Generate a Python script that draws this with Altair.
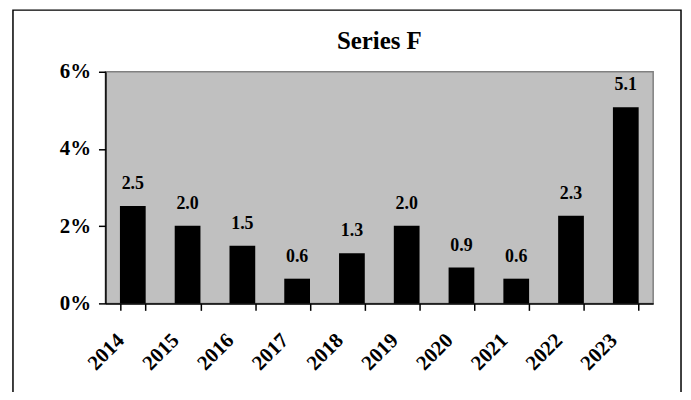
import altair as alt
import pandas as pd

years = ["2014", "2015", "2016", "2017", "2018", "2019", "2020", "2021", "2022", "2023"]
values = [2.52, 2.01, 1.49, 0.64, 1.30, 2.01, 0.93, 0.64, 2.27, 5.08]
y_ticks = [0, 2, 4, 6]
title_text = "Series F"

df = pd.DataFrame({"year": years, "value": values})
FONT = "Liberation Serif"

x = alt.X(
    "year:N",
    sort=years,
    title=None,
    scale=alt.Scale(paddingInner=0.53, paddingOuter=0.265),
    axis=alt.Axis(
        labelAngle=-45,
        tickBand="extent",
        labelFontSize=21,
        labelPadding=19,
        labelOffset=-20,
    ),
)
y = alt.Y(
    "value:Q",
    title=None,
    scale=alt.Scale(domain=[0, 6], nice=False, zero=True),
    axis=alt.Axis(values=y_ticks, labelExpr="datum.value + '%'", labelFontSize=21, labelPadding=8),
)

base = alt.Chart(df)
bars = base.mark_bar(color="black").encode(x=x, y=y)
labels = base.mark_text(
    dy=-17, baseline="alphabetic", font=FONT, fontWeight="bold", fontSize=18, color="black"
).encode(x=x, y=y, text=alt.Text("value:Q", format=".1f"))

one = pd.DataFrame({"t": [title_text]})
title = alt.Chart(one).mark_text(
    font=FONT, fontWeight="bold", fontSize=25, color="black", baseline="alphabetic", align="center"
).encode(text="t:N", x=alt.value(275.5), y=alt.value(-23))

frame = alt.Chart(one).mark_rect(
    fill="transparent", stroke="black", strokeWidth=1.5
).encode(x=alt.value(-93), x2=alt.value(579), y=alt.value(-62), y2=alt.value(340))

chart = alt.layer(bars, labels, title, frame).properties(
    width=551,
    height=233,
    padding={"left": 98, "right": 30, "top": 63, "bottom": 88},
    autosize="none",
).configure_view(
    fill="#C0C0C0", stroke="#808080", strokeWidth=1.5
).configure_axis(
    domainColor="black", domainWidth=1.5, tickColor="black", tickWidth=1.5, tickSize=7,
    labelFont=FONT, labelFontWeight="bold", labelColor="black", grid=False,
)

chart.save("out.html", embed_options={"renderer": "svg", "actions": False})
